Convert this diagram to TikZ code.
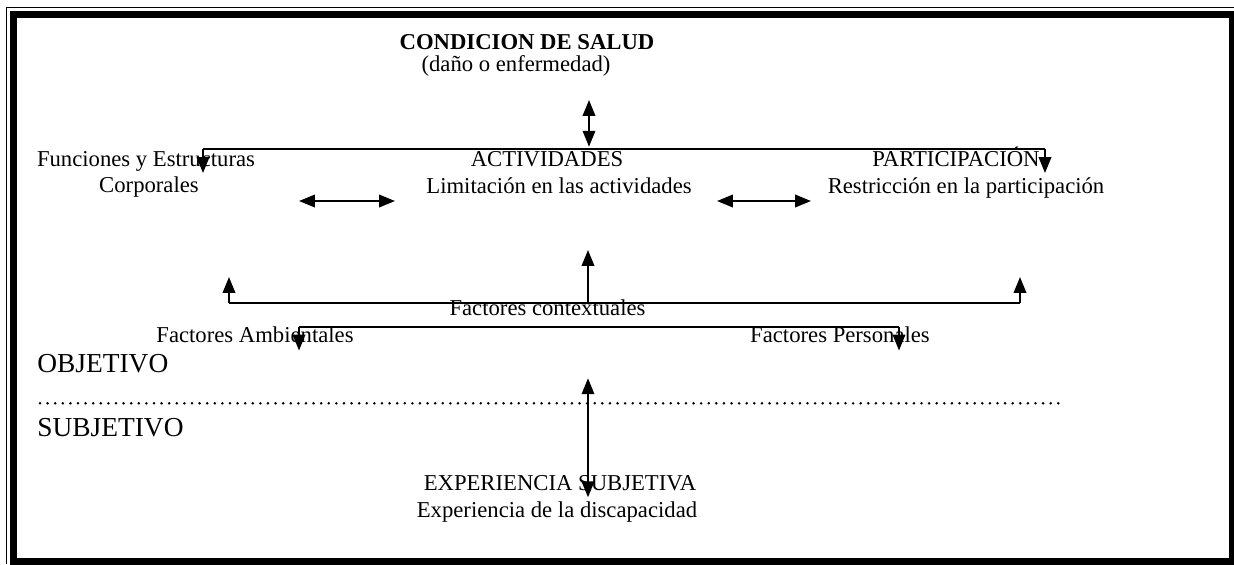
\documentclass[tikz,border=0pt]{standalone}
\usepackage{fontspec}
\setmainfont{Liberation Serif}
\usetikzlibrary{arrows.meta}

\tikzset{
  flecha/.style={-{Triangle[width=6.6pt,length=8.4pt]},line width=1.05pt},
  doble/.style={{Triangle[width=6.6pt,length=8.4pt]}-{Triangle[width=6.6pt,length=8.4pt]},line width=1.05pt},
  rama/.style={line width=1.05pt},
  texto/.style={anchor=base,inner sep=0pt,font=\fontsize{12}{14}\selectfont},
  lado/.style={anchor=base west,inner sep=0pt,font=\fontsize{14.5}{17}\selectfont}
}

\begin{document}
\begin{tikzpicture}[x=0.529pt,y=-0.529pt]
\useasboundingbox (0,0) rectangle (1234,564);
\draw[line width=0.8pt] (6.5,564) -- (6.5,7.5) -- (1234,7.5);
\draw[line width=3.7pt] (13.5,14.5) rectangle (1232.5,561.5);

\node[texto,font=\bfseries\fontsize{12}{14}\selectfont] (salud) at (527,49) {CONDICION DE SALUD};
\node[texto] (dano) at (516,71) {(daño o enfermedad)};
\node[texto] (func) at (146,166.7) {Funciones y Estructuras};
\node[texto] (corp) at (149,192.7) {Corporales};
\node[texto] (act) at (547,166.7) {ACTIVIDADES};
\node[texto] (lim) at (559,193) {Limitación en las actividades};
\node[texto] (part) at (956,166.7) {PARTICIPACIÓN};
\node[texto] (restr) at (966,193) {Restricción en la participación};
\node[texto] (ctx) at (547.5,315) {Factores contextuales};
\node[texto] (amb) at (255,342) {Factores Ambientales};
\node[texto] (pers) at (840,342) {Factores Personales};
\node[lado] (obj) at (37,372) {OBJETIVO};
\node[lado] (subj) at (37,436) {SUBJETIVO};
\node[texto] (exp) at (560,490) {EXPERIENCIA SUBJETIVA};
\node[texto] (disc) at (557,517) {Experiencia de la discapacidad};

\coordinate (s1) at (589,100);
\coordinate (s2) at (589,146.7);
\coordinate (t1) at (203,149.3);
\coordinate (t2) at (1045,149.3);
\coordinate (t1d) at (203,173);
\coordinate (t2d) at (1045,173);
\coordinate (h1) at (299,201);
\coordinate (h2) at (395,201);
\coordinate (h3) at (717,201);
\coordinate (h4) at (811,201);
\coordinate (m1) at (588,302.7);
\coordinate (m2) at (588,250);
\coordinate (c1) at (229,302.7);
\coordinate (c2) at (1020,302.7);
\coordinate (c1u) at (229,277);
\coordinate (c2u) at (1020,277);
\coordinate (a1) at (299,326.7);
\coordinate (a2) at (899,326.7);
\coordinate (a1d) at (299,350.5);
\coordinate (a2d) at (899,350.5);
\coordinate (e1) at (588,378.3);
\coordinate (e2) at (588,497.3);
\coordinate (p1) at (40,403.3);
\coordinate (p2) at (1060,403.3);

\draw[doble] (s1) -- (s2);
\draw[rama] (t1) -- (t2);
\path[flecha] (t1) edge (t1d) (t2) edge (t2d);
\path[doble] (h1) edge (h2) (h3) edge (h4);
\draw[rama] (c1) -- (c2);
\path[flecha] (m1) edge (m2) (c1) edge (c1u) (c2) edge (c2u);
\draw[rama] (a1) -- (a2);
\path[flecha] (a1) edge (a1d) (a2) edge (a2d);
\draw[doble] (e1) -- (e2);
\draw[line width=1.5pt,line cap=round,dash pattern=on 0pt off 4.02pt] (p1) -- (p2);
\end{tikzpicture}
\end{document}
